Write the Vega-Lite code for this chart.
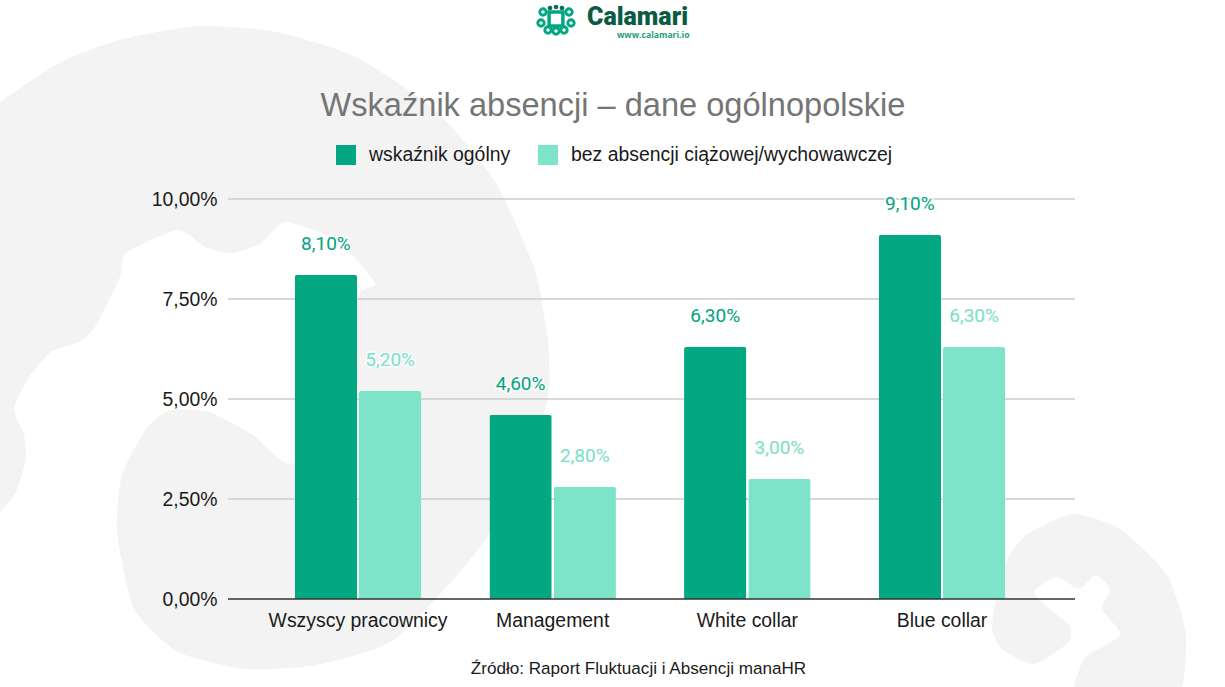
{"$schema":"https://vega.github.io/schema/vega-lite/v6.json","width":847,"height":400,"autosize":{"type":"none"},"padding":{"left":228,"top":199,"right":150,"bottom":88},"background":"#ffffff",
"datasets":{
"wyniki":[
{"grupa":"Wszyscy pracownicy","seria":"wskaźnik ogólny","wartosc":8.1,"etykieta":"8,10%"},
{"grupa":"Wszyscy pracownicy","seria":"bez absencji ciążowej/wychowawczej","wartosc":5.2,"etykieta":"5,20%"},
{"grupa":"Management","seria":"wskaźnik ogólny","wartosc":4.6,"etykieta":"4,60%"},
{"grupa":"Management","seria":"bez absencji ciążowej/wychowawczej","wartosc":2.8,"etykieta":"2,80%"},
{"grupa":"White collar","seria":"wskaźnik ogólny","wartosc":6.3,"etykieta":"6,30%"},
{"grupa":"White collar","seria":"bez absencji ciążowej/wychowawczej","wartosc":3.0,"etykieta":"3,00%"},
{"grupa":"Blue collar","seria":"wskaźnik ogólny","wartosc":9.1,"etykieta":"9,10%"},
{"grupa":"Blue collar","seria":"bez absencji ciążowej/wychowawczej","wartosc":6.3,"etykieta":"6,30%"}],
"siatka":[{"v":2.5},{"v":5},{"v":7.5},{"v":10}],
"baza":[{"v":0}],
"plamy":[
{"s":"A","i":1,"x":-12,"y":107},{"s":"A","i":2,"x":0,"y":102},{"s":"A","i":3,"x":59,"y":63},{"s":"A","i":4,"x":119,"y":40},{"s":"A","i":5,"x":198,"y":26},{"s":"A","i":6,"x":277,"y":32},{"s":"A","i":7,"x":356,"y":57},{"s":"A","i":8,"x":435,"y":110},{"s":"A","i":9,"x":494,"y":180},{"s":"A","i":10,"x":534,"y":267},{"s":"A","i":11,"x":547,"y":333},{"s":"A","i":12,"x":549,"y":359},{"s":"A","i":13,"x":545,"y":409},{"s":"A","i":14,"x":486,"y":539},{"s":"A","i":15,"x":395,"y":639},{"s":"A","i":16,"x":316,"y":665},{"s":"A","i":17,"x":245,"y":669},{"s":"A","i":18,"x":178,"y":652},{"s":"A","i":19,"x":134,"y":609},{"s":"A","i":20,"x":117,"y":532},{"s":"A","i":21,"x":122,"y":475},{"s":"A","i":22,"x":146,"y":429},{"s":"A","i":23,"x":170,"y":410},{"s":"A","i":24,"x":209,"y":412},{"s":"A","i":25,"x":253,"y":435},{"s":"A","i":26,"x":292,"y":464},{"s":"A","i":27,"x":345,"y":400},{"s":"A","i":28,"x":358,"y":297},{"s":"A","i":29,"x":375,"y":283},{"s":"A","i":30,"x":336,"y":240},{"s":"A","i":31,"x":285,"y":222},{"s":"A","i":32,"x":261,"y":243},{"s":"A","i":33,"x":233,"y":253},{"s":"A","i":34,"x":205,"y":247},{"s":"A","i":35,"x":178,"y":230},{"s":"A","i":36,"x":126,"y":253},{"s":"A","i":37,"x":120,"y":277},{"s":"A","i":38,"x":95,"y":327},{"s":"A","i":39,"x":79,"y":342},{"s":"A","i":40,"x":51,"y":352},{"s":"A","i":41,"x":28,"y":379},{"s":"A","i":42,"x":14,"y":409},{"s":"A","i":43,"x":24,"y":435},{"s":"A","i":44,"x":26,"y":459},{"s":"A","i":45,"x":16,"y":492},{"s":"A","i":46,"x":0,"y":512},{"s":"A","i":47,"x":-12,"y":520},
{"s":"B","i":1,"x":1006,"y":562},{"s":"B","i":2,"x":1026,"y":535},{"s":"B","i":3,"x":1073,"y":514},{"s":"B","i":4,"x":1120,"y":529},{"s":"B","i":5,"x":1167,"y":575},{"s":"B","i":6,"x":1186,"y":635},{"s":"B","i":7,"x":1175,"y":700},{"s":"B","i":8,"x":1077,"y":700},{"s":"B","i":9,"x":1084,"y":659},{"s":"B","i":10,"x":1120,"y":635},{"s":"B","i":11,"x":1102,"y":609},{"s":"B","i":12,"x":1110,"y":590},{"s":"B","i":13,"x":1096,"y":575},{"s":"B","i":14,"x":1079,"y":589},{"s":"B","i":15,"x":1057,"y":577},{"s":"B","i":16,"x":1035,"y":590},{"s":"B","i":17,"x":1041,"y":602},{"s":"B","i":18,"x":1069,"y":625},{"s":"B","i":19,"x":1069,"y":642},{"s":"B","i":20,"x":1034,"y":664},{"s":"B","i":21,"x":1002,"y":649},{"s":"B","i":22,"x":992,"y":629},{"s":"B","i":23,"x":996,"y":599}],
"pierscienie":[{"x":543,"y":12},{"x":569,"y":12},{"x":541,"y":23},{"x":571,"y":23},{"x":548,"y":30},{"x":564,"y":30},{"x":556,"y":31}],
"korona":[{"x":550,"y":8},{"x":556,"y":7},{"x":562,"y":8}],
"ramka":[{"x":556,"y":19}],
"nazwa":[{"x":587,"y":17,"t":"Calamari"}],
"adres":[{"x":617,"y":35,"t":"www.calamari.io"}],
"tytul":[{"x":613,"y":116,"t":"Wskaźnik absencji – dane ogólnopolskie"}]
},
"layer":[
{"layer":[
{"data":{"name":"plamy"},"mark":{"type":"line","fill":"#f3f3f3","stroke":null,"strokeWidth":0,"interpolate":"cardinal-closed","tension":0.4},
"encoding":{"x":{"field":"x","type":"quantitative","axis":null,"scale":{"domain":[228,1075],"nice":false,"zero":false}},"y":{"field":"y","type":"quantitative","axis":null,"scale":{"domain":[199,599],"nice":false,"zero":false,"reverse":true}},"detail":{"field":"s"},"order":{"field":"i"}}},
{"data":{"name":"pierscienie"},"mark":{"type":"point","filled":false,"stroke":"#03a883","strokeWidth":3,"size":40,"opacity":1},"encoding":{"x":{"field":"x","type":"quantitative"},"y":{"field":"y","type":"quantitative"}}},
{"data":{"name":"korona"},"mark":{"type":"point","filled":true,"fill":"#0b6e55","opacity":1,"size":22},"encoding":{"x":{"field":"x","type":"quantitative"},"y":{"field":"y","type":"quantitative"}}},
{"data":{"name":"ramka"},"mark":{"type":"point","shape":"square","filled":false,"stroke":"#03a883","strokeWidth":3.5,"size":190,"opacity":1},"encoding":{"x":{"field":"x","type":"quantitative"},"y":{"field":"y","type":"quantitative"}}},
{"data":{"name":"nazwa"},"mark":{"type":"text","font":"Roboto","fontWeight":900,"fontSize":25,"color":"#0b5a43","align":"left","baseline":"middle"},"encoding":{"x":{"field":"x","type":"quantitative"},"y":{"field":"y","type":"quantitative"},"text":{"field":"t"}}},
{"data":{"name":"adres"},"mark":{"type":"text","font":"Open Sans","fontWeight":"bold","fontSize":8.6,"color":"#1f9d7c","align":"left","baseline":"middle"},"encoding":{"x":{"field":"x","type":"quantitative"},"y":{"field":"y","type":"quantitative"},"text":{"field":"t"}}},
{"data":{"name":"tytul"},"mark":{"type":"text","font":"Liberation Sans","fontSize":32.6,"color":"#757575","align":"center","baseline":"alphabetic"},"encoding":{"x":{"field":"x","type":"quantitative"},"y":{"field":"y","type":"quantitative"},"text":{"field":"t"}}}
]},
{"layer":[
{"data":{"name":"siatka"},"mark":{"type":"rule","color":"#cccccc","strokeWidth":1.5},"encoding":{"y":{"field":"v","type":"quantitative","scale":{"domain":[0,10],"nice":false},"axis":{"orient":"left","zindex":1,"title":null,"values":[0,2.5,5,7.5,10],"labelExpr":"replace(format(datum.value,'.2f'),'.',',')+'%'","labelFont":"Liberation Sans","labelFontSize":19.4,"labelColor":"#1a1a1a","labelPadding":11,"ticks":false,"domain":false,"grid":false}}}},
{"data":{"name":"wyniki"},"mark":{"type":"bar","cornerRadiusTopLeft":2,"cornerRadiusTopRight":2},
"encoding":{
"x":{"field":"grupa","type":"nominal","sort":["Wszyscy pracownicy","Management","White collar","Blue collar"],"scale":{"range":[32.7,811.3],"paddingInner":0.35,"paddingOuter":0.175},"axis":{"orient":"bottom","zindex":1,"title":"Źródło: Raport Fluktuacji i Absencji manaHR","titleFont":"Liberation Sans","titleFontSize":17.1,"titleFontWeight":"normal","titleColor":"#1a1a1a","titleX":410,"titleY":74,"titleAnchor":"middle","titleBaseline":"alphabetic","labelFont":"Liberation Sans","labelFontSize":19.4,"labelColor":"#1a1a1a","labelAngle":0,"labelPadding":12,"ticks":false,"domain":false,"grid":false}},
"xOffset":{"field":"seria","sort":["wskaźnik ogólny","bez absencji ciążowej/wychowawczej"],"scale":{"paddingInner":0.03,"paddingOuter":0}},
"y":{"field":"wartosc","type":"quantitative","scale":{"domain":[0,10],"nice":false}},
"color":{"field":"seria","type":"nominal","scale":{"domain":["wskaźnik ogólny","bez absencji ciążowej/wychowawczej"],"range":["#03a883","#7de4ca"]},"legend":{"title":null,"orient":"none","legendX":108,"legendY":-54,"direction":"horizontal","columns":2,"columnPadding":27,"symbolType":"square","symbolSize":400,"symbolStrokeWidth":0,"symbolOpacity":1,"labelFont":"Liberation Sans","labelFontSize":19.4,"labelColor":"#1a1a1a","labelOffset":13,"labelLimit":500}}}},
{"data":{"name":"baza"},"mark":{"type":"rule","color":"#333333","strokeWidth":1.5},"encoding":{"y":{"field":"v","type":"quantitative"}}},
{"data":{"name":"wyniki"},"mark":{"type":"text","font":"Roboto","fontSize":19,"dy":-31,"baseline":"middle","stroke":"#ffffff","strokeWidth":3,"strokeOpacity":0.9},
"encoding":{"x":{"field":"grupa","type":"nominal","sort":["Wszyscy pracownicy","Management","White collar","Blue collar"]},"xOffset":{"field":"seria","sort":["wskaźnik ogólny","bez absencji ciążowej/wychowawczej"]},"y":{"field":"wartosc","type":"quantitative"},"text":{"field":"etykieta"}}},
{"data":{"name":"wyniki"},"mark":{"type":"text","font":"Roboto","fontSize":19,"dy":-31,"baseline":"middle"},
"encoding":{"x":{"field":"grupa","type":"nominal","sort":["Wszyscy pracownicy","Management","White collar","Blue collar"]},"xOffset":{"field":"seria","sort":["wskaźnik ogólny","bez absencji ciążowej/wychowawczej"]},"y":{"field":"wartosc","type":"quantitative"},"text":{"field":"etykieta"},"color":{"field":"seria","type":"nominal"}}}
]}
],
"resolve":{"scale":{"x":"independent","y":"independent"},"axis":{"x":"independent","y":"independent"}},
"config":{"view":{"stroke":null}}}
